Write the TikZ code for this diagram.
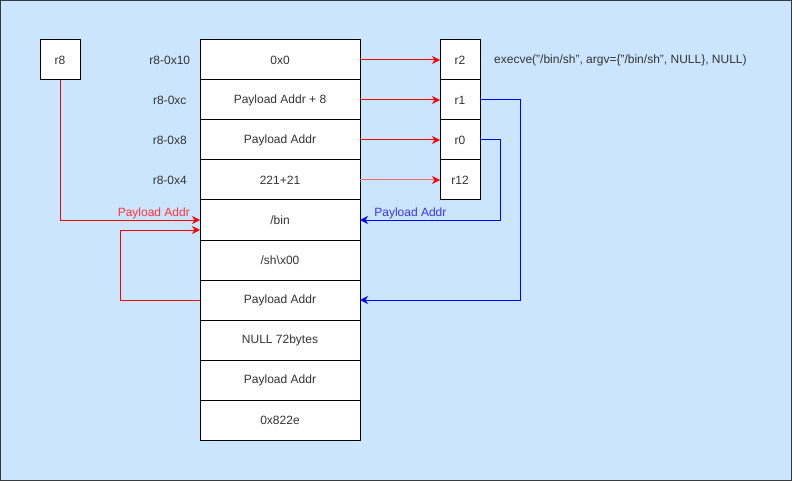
\documentclass[tikz,border=0pt]{standalone}
\usepackage{fontspec}
\setmainfont{Liberation Sans}
\usetikzlibrary{positioning,arrows.meta}
\definecolor{canvas}{HTML}{CCE5FF}
\definecolor{frame}{HTML}{36393D}
\definecolor{inkgray}{HTML}{333333}
\definecolor{redtext}{HTML}{FF3333}
\definecolor{bluetext}{HTML}{3333FF}
\definecolor{pinkline}{HTML}{EA6B66}
\begin{document}
\begin{tikzpicture}[
    x=1pt, y=-1pt,
    font=\fontsize{12}{14}\selectfont,
    cell/.style={rectangle, draw, fill=white, line width=1pt, inner sep=0pt,
        outer sep=0pt, minimum width=160pt, minimum height=40pt, text=inkgray},
    register/.style={rectangle, draw, fill=white, line width=1pt, inner sep=0pt,
        outer sep=0pt, minimum width=40pt, minimum height=40pt, text=inkgray},
    offset/.style={inner sep=0pt, minimum width=60pt, text=inkgray},
    note/.style={inner sep=0pt, anchor=west, text=inkgray},
    redlink/.style={draw=red, line width=1pt, -{Stealth[length=8pt,width=8pt,inset=2.5pt,color=red]}},
    pinklink/.style={draw=pinkline, line width=1pt, -{Stealth[length=8pt,width=8pt,inset=2.5pt,color=red]}},
    bluelink/.style={draw=blue, line width=1pt, -{Stealth[length=8pt,width=8pt,inset=2.5pt,color=blue]}},
    redlabel/.style={text=redtext, inner sep=1pt},
    bluelabel/.style={text=bluetext, inner sep=1pt}
]
\fill[canvas] (0,0) rectangle (792,481);
\draw[frame, line width=1pt] (0.5,0.5) rectangle (791.5,480.5);
\useasboundingbox (0,0) rectangle (792,481);

\node (Zero) [cell] at (280,60) {0x0};
\node (PayloadPlus) [cell, below=0pt of Zero] {Payload Addr + 8};
\node (PayloadA) [cell, below=0pt of PayloadPlus] {Payload Addr};
\node (Sum) [cell, below=0pt of PayloadA] {221+21};
\node (Bin) [cell, below=0pt of Sum] {/bin};
\node (Sh) [cell, below=0pt of Bin] {/sh\textbackslash x00};
\node (PayloadB) [cell, below=0pt of Sh] {Payload Addr};
\node (Null) [cell, below=0pt of PayloadB] {NULL 72bytes};
\node (PayloadC) [cell, below=0pt of Null] {Payload Addr};
\node (Magic) [cell, below=0pt of PayloadC] {0x822e};

\node (Off10) [offset, left=0pt of Zero] {r8-0x10};
\node (OffC) [offset, left=0pt of PayloadPlus] {r8-0xc};
\node (Off8) [offset, left=0pt of PayloadA] {r8-0x8};
\node (Off4) [offset, left=0pt of Sum] {r8-0x4};

\node (R2) [register, right=80pt of Zero] {r2};
\node (R1) [register, below=0pt of R2] {r1};
\node (R0) [register, below=0pt of R1] {r0};
\node (R12) [register, below=0pt of R0] {r12};
\node (R8) [register] at (60,60) {r8};

\node (Execve) [note, right=14pt of R2] {execve("/bin/sh", argv=\{"/bin/sh", NULL\}, NULL)};

\coordinate (BinLow) at ([yshift=-10pt]Bin.west);

\draw[redlink] (Zero) -- (R2);
\draw[redlink] (PayloadPlus) -- (R1);
\draw[redlink] (PayloadA) -- (R0);
\draw[pinklink] (Sum) -- (R12);
\draw[redlink] (R8.south) |- node[redlabel, above, pos=0.835] {Payload Addr} (Bin.west);
\draw[redlink] (PayloadB.west) -- ++(-80pt,0) |- (BinLow);
\draw[bluelink] (R0.east) -- ++(20pt,0) |- node[bluelabel, above, pos=0.82] {Payload Addr} (Bin.east);
\draw[bluelink] (R1.east) -- ++(40pt,0) |- (PayloadB.east);

\end{tikzpicture}
\end{document}
